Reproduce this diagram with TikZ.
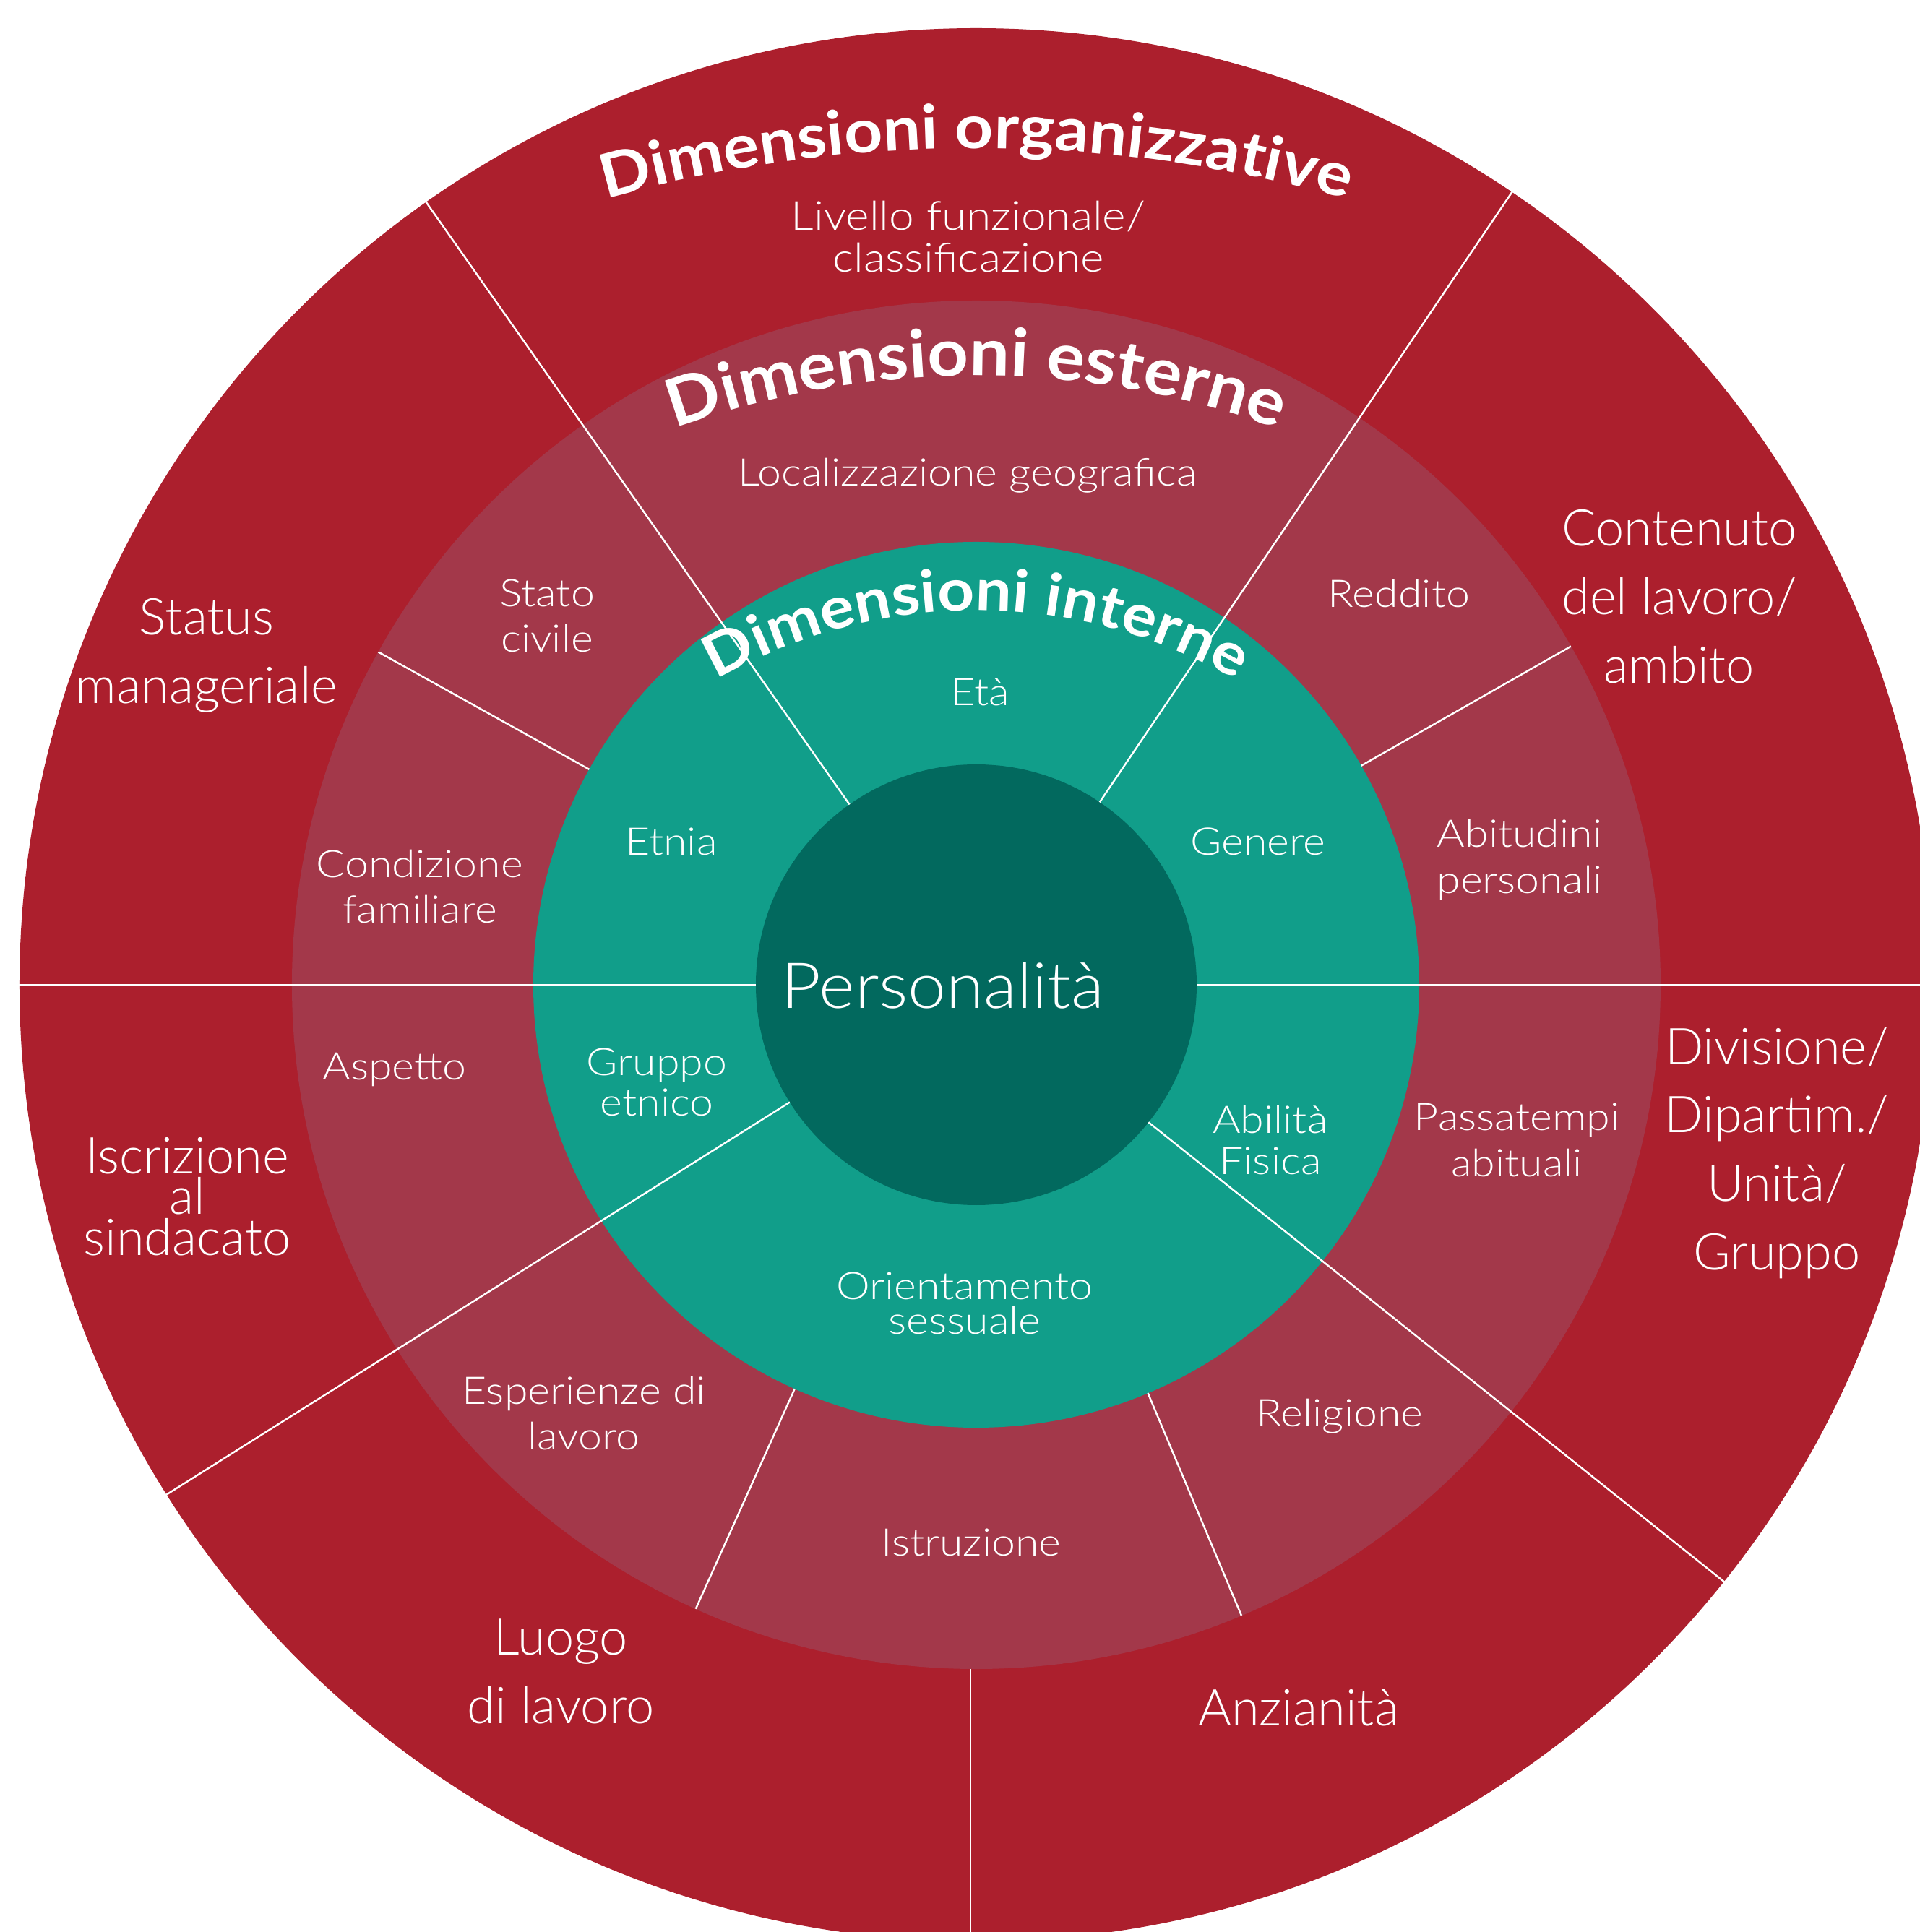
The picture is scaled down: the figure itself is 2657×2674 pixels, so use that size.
\documentclass[tikz,border=0pt]{standalone}
\usepackage{fontspec}
\setmainfont{Lato}
\newfontfamily\lightwide{Lato Light}[FakeStretch=1.12]
\newfontfamily\lightplain{Lato Light}
\newfontfamily\persfont{Lato Light}[FakeStretch=1.08]
\newfontfamily\titlefont{Lato Bold}[FakeStretch=1.1]
\newfontfamily\titlefontb{Lato Bold}[FakeStretch=1.08]
\usetikzlibrary{decorations.text}
\definecolor{outerred}{HTML}{AC1F2D}
\definecolor{midred}{HTML}{A3384A}
\definecolor{tealring}{HTML}{119E8A}
\definecolor{coreteal}{HTML}{02695E}
\newcommand\fsz[2]{\fontsize{#1}{#2}\selectfont}
\begin{document}
\begin{tikzpicture}[x=0.1mm,y=0.1mm,
  sep/.style={draw=white, line width=0.7pt},
  lbl/.style={text=white, align=center, inner sep=0pt, font=\lightwide\fsz{15}{18}},
  lbltight/.style={lbl, font=\lightwide\fsz{15}{16}},
  big/.style={lbl, font=\lightplain\fsz{20}{27}},
  titlearc/.style 2 args={decorate, decoration={text along path, text align=center, text color=white,
     text={|#1|#2}}},
]
\useasboundingbox (-1351,-1311) rectangle (1306,1363);
\clip (-1351,-1311) rectangle (1306,1363);
% rings
\fill[outerred] (0,0) circle[radius=1324];
\fill[midred] (0,0) circle[radius=947];
\fill[tealring] (0,0) circle[radius=613];
\fill[coreteal] (0,0) circle[radius=305];
% separators through all rings
\foreach \a in {125.1, 55.95, 0, 180, 212.2, -38.6}
  \draw[sep] (\a:305) -- (\a:1420);
% separators in the middle ring only
\foreach \a in {150.9, 29.65, -114.2, -67.2}
  \draw[sep] (\a:613) -- (\a:947);
% separator in the outer ring only
\coordinate (bA) at (-8,-947);
\coordinate (bB) at (-8,-1400);
\draw[sep] (bA) -- (bB);
% curved titles
\path[titlearc={\titlefont\fsz{24}{24}}{Dimensioni organizzative}] (0,-742) ++(120:1900) arc[start angle=120, end angle=60, radius=1900];
\path[titlearc={\titlefontb\fsz{26}{26}}{Dimensioni esterne}] (0,-382) ++(130:1225) arc[start angle=130, end angle=50, radius=1225];
\path[titlearc={\titlefont\fsz{23}{23}}{Dimensioni interne}] (0,-202) ++(150:720) arc[start angle=150, end angle=30, radius=720];
% core
\node[lbl, font=\persfont\fsz{25}{30}] (personalita) at (-46,-1) {Personalità};
% outer ring
\node[lbl, font=\lightwide\fsz{15.8}{16.5}] (livello) at (-11,1035) {Livello funzionale/\\classificazione};
\node[big] (contenuto) at (973,537) {Contenuto\\del lavoro/\\ambito};
\node[big] (status) at (-1065,456) {Status\\manageriale};
\node[big] (divisione) at (1108,-233) {Divisione/\\Dipartim./\\Unità/\\Gruppo};
\node[big, font=\lightplain\fsz{20}{16}] (iscrizione) at (-1092,-293) {Iscrizione\\al\\sindacato};
\node[big] (luogo) at (-575,-950) {Luogo\\di lavoro};
\node[big] (anzianita) at (446,-1001) {Anzianità};
% middle ring
\node[lbl] (localizzazione) at (-12,705) {Localizzazione geografica};
\node[lbl] (stato) at (-594,511) {Stato\\civile};
\node[lbl] (reddito) at (585,541) {Reddito};
\node[lbl] (condizione) at (-770,136) {Condizione\\familiare};
\node[lbl] (abitudini) at (752,173) {Abitudini\\personali};
\node[lbl] (aspetto) at (-805,-117) {Aspetto};
\node[lbl] (passatempi) at (748,-215) {Passatempi\\abituali};
\node[lbl] (religione) at (503,-597) {Religione};
\node[lbl] (istruzione) at (-7,-772) {Istruzione};
\node[lbl] (esperienze) at (-543,-593) {Esperienze di\\lavoro};
% inner ring
\node[lbl] (eta) at (5,405) {Età};
\node[lbl] (etnia) at (-422,198) {Etnia};
\node[lbl] (genere) at (390,198) {Genere};
\node[lbltight] (gruppo) at (-442,-135) {Gruppo\\etnico};
\node[lbltight] (abilita) at (407,-215) {Abilità\\Fisica};
\node[lbl, font=\lightwide\fsz{15}{13.6}] (orient) at (-16,-441) {Orientamento\\sessuale};
\end{tikzpicture}
\end{document}
